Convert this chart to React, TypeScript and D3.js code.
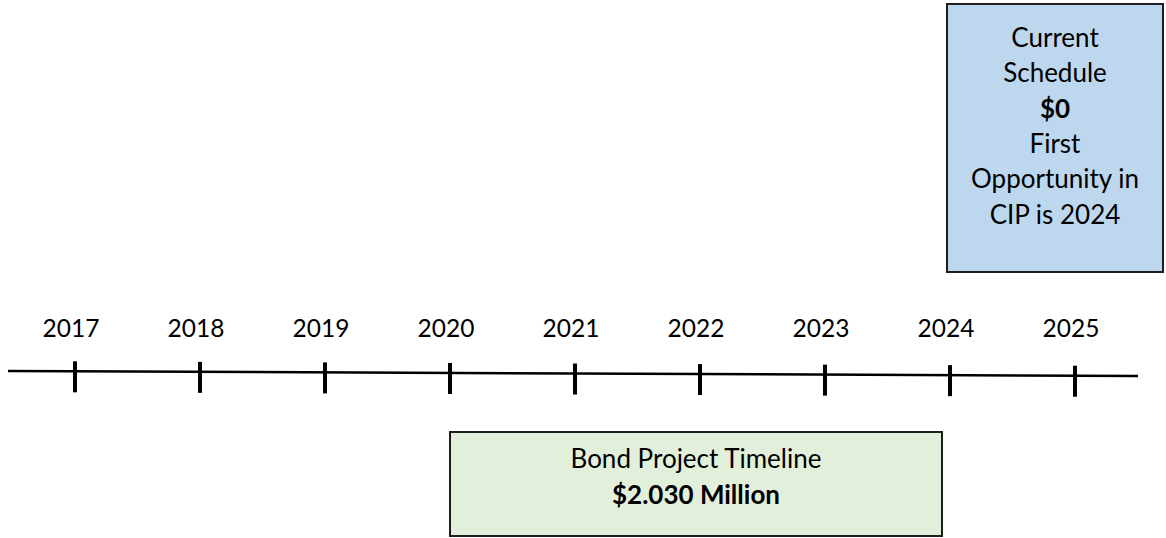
import { useEffect } from 'react';
import * as d3 from 'd3';

const years = [2017, 2018, 2019, 2020, 2021, 2022, 2023, 2024, 2025];
const currentLines = ['Current', 'Schedule', '$0', 'First', 'Opportunity in', 'CIP is 2024'];
const currentBold = [false, false, true, false, false, false];
const bondLines = ['Bond Project Timeline', '$2.030 Million'];
const bondBold = [false, true];
const bondSpan = [2020, 2024];
const currentStart = 2024;

const W = 1166;
const H = 538;
const FONT = 'Lato, "Open Sans", sans-serif';

export default function App() {
  useEffect(() => {
    document.body.style.margin = '0';
  }, []);

  const x = d3.scaleLinear().domain([2017, 2025]).range([75, 1075]);

  // the drawn axis line tilts a little, left to right
  const lineY = d3.scaleLinear().domain([8, 1138]).range([371, 376]);

  const blueX0 = x(currentStart) - 3;
  const blueX1 = W - 3;
  const greenX0 = x(bondSpan[0]);
  const greenX1 = x(bondSpan[1]) - 8;

  return (
    <svg width={W} height={H} style={{ display: 'block', background: '#fff' }}>
      {/* current schedule box */}
      <rect
        x={blueX0}
        y={4}
        width={blueX1 - blueX0}
        height={268}
        fill="#bdd7ee"
        stroke="#1e1e1e"
        strokeWidth={2}
      />
      {currentLines.map((t, i) => (
        <text
          key={t}
          x={(blueX0 + blueX1) / 2}
          y={47 + i * 35.3}
          textAnchor="middle"
          fontFamily={FONT}
          fontSize={26}
          fontWeight={currentBold[i] ? 700 : 400}
          fill="#000"
        >
          {t}
        </text>
      ))}

      {/* timeline */}
      <line x1={8} y1={lineY(8)} x2={1138} y2={lineY(1138)} stroke="#000" strokeWidth={2.5} />
      {years.map((yr) => {
        const cx = x(yr);
        const ly = lineY(cx);
        return (
          <g key={yr}>
            <line x1={cx} y1={ly - 10} x2={cx} y2={ly + 21} stroke="#000" strokeWidth={4} />
            <text
              x={cx - 4}
              y={337}
              textAnchor="middle"
              fontFamily={FONT}
              fontSize={24.5}
              fill="#000"
            >
              {yr}
            </text>
          </g>
        );
      })}

      {/* bond project box */}
      <rect
        x={greenX0}
        y={432}
        width={greenX1 - greenX0}
        height={104}
        fill="#e2efda"
        stroke="#1e1e1e"
        strokeWidth={2}
      />
      {bondLines.map((t, i) => (
        <text
          key={t}
          x={(greenX0 + greenX1) / 2}
          y={468 + i * 36}
          textAnchor="middle"
          fontFamily={FONT}
          fontSize={26}
          fontWeight={bondBold[i] ? 700 : 400}
          fill="#000"
        >
          {t}
        </text>
      ))}
    </svg>
  );
}
